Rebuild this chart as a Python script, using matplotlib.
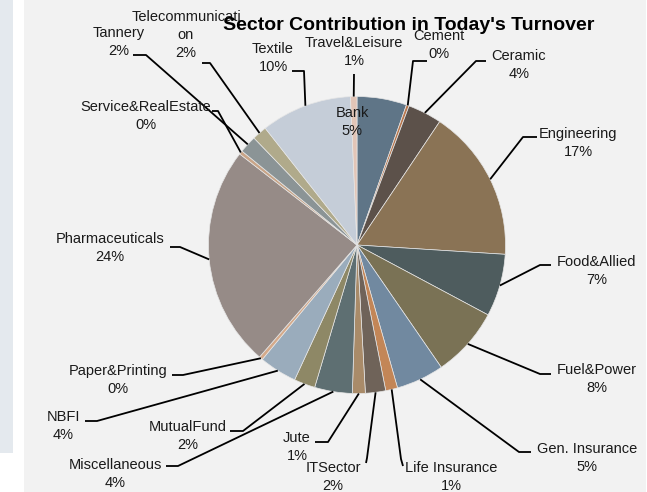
import numpy as np
import matplotlib
matplotlib.use('Agg')
import matplotlib.pyplot as plt
from matplotlib.patches import Rectangle

plt.rcParams['font.family'] = ['Liberation Sans', 'DejaVu Sans']

# Data ---------------------------------------------------------------------
sectors = ['Bank', 'Cement', 'Ceramic', 'Engineering', 'Food&Allied', 'Fuel&Power',
           'Gen. Insurance', 'Life Insurance', 'ITSector', 'Jute', 'Miscellaneous',
           'MutualFund', 'NBFI', 'Paper&Printing', 'Pharmaceuticals',
           'Service&RealEstate', 'Tannery', 'Telecommunication', 'Textile',
           'Travel&Leisure']
shares = [5.4, 0.3, 3.7, 16.6, 6.8, 7.6, 5.2, 1.3, 2.2, 1.4, 4.1,
          2.3, 4.1, 0.4, 24.1, 0.4, 1.9, 1.6, 9.9, 0.7]
display_names = ['Bank', 'Cement', 'Ceramic', 'Engineering', 'Food&Allied', 'Fuel&Power',
                 'Gen. Insurance', 'Life Insurance', 'ITSector', 'Jute', 'Miscellaneous',
                 'MutualFund', 'NBFI', 'Paper&Printing', 'Pharmaceuticals',
                 'Service&RealEstate', 'Tannery', 'Telecommunicati\non', 'Textile',
                 'Travel&Leisure']

colors = ['#5f7587', '#b9774d', '#5c514a', '#8a7355', '#4e5c5e', '#7a7255',
          '#7189a0', '#c38657', '#6f6359', '#a98b69', '#5e6f72', '#8e8866',
          '#9aacbc', '#d5aa8a', '#968b87', '#c9a588', '#8b9496', '#b0aa8b',
          '#c5cdd8', '#e2c5b7']

# Label layout (pixels from top-left): text centre, leader start, leader elbow
label_layout = {
    'Bank':               ((352, 122), None, None),
    'Cement':             ((439, 45), (427, 61), (413, 61)),
    'Ceramic':            ((519, 65), (486, 61), (476, 61)),
    'Engineering':        ((578, 143), (537, 137), (523, 137)),
    'Food&Allied':        ((597, 271), (551, 265), (540, 265)),
    'Fuel&Power':         ((597, 379), (551, 374), (540, 374)),
    'Gen. Insurance':     ((587, 458), (531, 452), (519, 452)),
    'Life Insurance':     ((451, 477), (403, 466), (401, 459)),
    'ITSector':           ((333, 477), (366, 463), (367, 458)),
    'Jute':               ((297, 447), (315, 442), (328, 442)),
    'Miscellaneous':      ((115, 474), (166, 466), (178, 466)),
    'MutualFund':         ((188, 436), (230, 431), (243, 431)),
    'NBFI':               ((63, 426), (85, 421), (97, 421)),
    'Paper&Printing':     ((118, 380), (172, 375), (183, 375)),
    'Pharmaceuticals':    ((110, 248), (170, 247), (180, 247)),
    'Service&RealEstate': ((146, 116), (212, 111), (218, 111)),
    'Tannery':            ((119, 42), (133, 55), (146, 55)),
    'Telecommunication':  ((186, 35), (202, 63), (210, 63)),
    'Textile':            ((273, 58), (292, 71), (304, 71)),
    'Travel&Leisure':     ((354, 52), (354, 74), (354, 74)),
}

W, H = 647, 492
cx, cy, radius = 357, H - 245, 148.5

fig = plt.figure(figsize=(W / 100, H / 100), dpi=100)
fig.patch.set_facecolor('white')
ax = fig.add_axes([0, 0, 1, 1])
ax.set_xlim(0, W)
ax.set_ylim(0, H)
ax.axis('off')

# backgrounds
ax.add_patch(Rectangle((0, H - 453), 13, 453, facecolor='#e4e9ee', edgecolor='none', zorder=0))
ax.add_patch(Rectangle((24, 0), 622, H, facecolor='#f2f2f2', edgecolor='none', zorder=0))

wedges, _ = ax.pie(shares, colors=colors, startangle=90, counterclock=False,
                   center=(cx, cy), radius=radius, frame=True,
                   wedgeprops=dict(edgecolor='#e6e6e6', linewidth=0.5))
ax.set_xlim(0, W)
ax.set_ylim(0, H)
ax.set_aspect('equal')
ax.axis('off')

total = float(sum(shares))
cum = np.cumsum([0] + shares[:-1])
for i, name in enumerate(sectors):
    pct = shares[i] / total * 100
    (lx, ly), start, elbow = label_layout[name]
    ax.text(lx, H - ly, '%s\n%d%%' % (display_names[i], round(pct)), ha='center', va='center',
            multialignment='center', fontsize=10.5, color='#1a1a1a', linespacing=1.38, zorder=3)
    if start is None:
        continue
    mid = np.deg2rad(90 - (cum[i] + shares[i] / 2) / total * 360)
    ex = cx + radius * np.cos(mid)
    ey = cy + radius * np.sin(mid)
    ax.plot([start[0], elbow[0], ex], [H - start[1], H - elbow[1], ey],
            color='black', linewidth=1.3, solid_capstyle='butt', zorder=2)

ax.text(409, H - 26, "Sector Contribution in Today's Turnover", ha='center', va='center',
        fontsize=14, fontweight='bold', color='black', zorder=4)

plt.savefig('out.png', dpi=100)
